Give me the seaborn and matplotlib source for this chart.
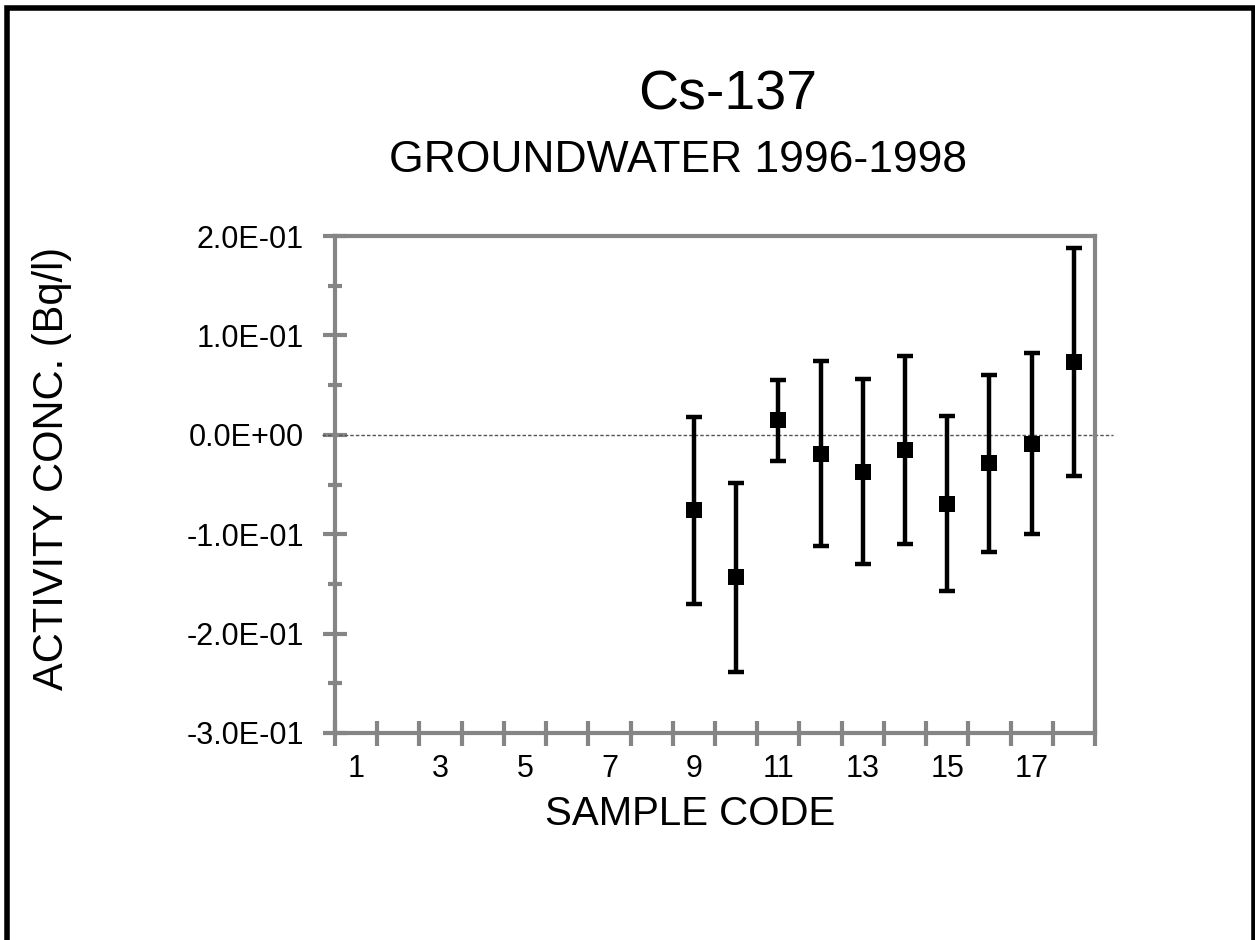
import numpy as np
import pandas as pd
import matplotlib
matplotlib.use("Agg")
import matplotlib.pyplot as plt
import seaborn as sns
from matplotlib.patches import Rectangle
from matplotlib.ticker import FixedLocator, FuncFormatter

# Data
sample_code = [9, 10, 11, 12, 13, 14, 15, 16, 17, 18]
activity = [-0.076, -0.1435, 0.0146, -0.0189, -0.037, -0.0153, -0.0695, -0.0286, -0.0088, 0.0732]
uncertainty = [0.094, 0.095, 0.041, 0.093, 0.093, 0.095, 0.088, 0.089, 0.091, 0.115]
x_tick_labels = [1, 3, 5, 7, 9, 11, 13, 15, 17]
y_ticks = [-0.3, -0.2, -0.1, 0.0, 0.1, 0.2]

df = pd.DataFrame({"code": sample_code, "activity": activity, "err": uncertainty})

sns.set_style("white")
plt.rcParams["font.family"] = ["Liberation Sans", "DejaVu Sans"]
plt.rcParams["text.color"] = "black"

grey = "#858585"

fig = plt.figure(figsize=(12.55, 9.4), dpi=100)
ax = fig.add_axes([335 / 1255, 1 - 733 / 940, 760 / 1255, 497 / 940])

# zero reference line, running a bit past the frame
ax.axhline(0, xmin=-0.017, xmax=1.024, color="#555555", lw=1.0,
           ls=(0, (2.5, 1.5)), clip_on=False, zorder=1)

ax.errorbar(df["code"], df["activity"], yerr=df["err"], fmt="none",
            ecolor="black", elinewidth=3.2, capsize=6, capthick=3.2, zorder=3)
sns.scatterplot(data=df, x="code", y="activity", marker="s", s=140,
                color="black", edgecolor="black", linewidth=0, ax=ax, zorder=4)

ax.set_xlim(0.5, 18.5)
ax.set_ylim(-0.3, 0.2)

# x axis: labels on odd codes, tick marks between categories
ax.xaxis.set_major_locator(FixedLocator(x_tick_labels))
ax.xaxis.set_minor_locator(FixedLocator(np.arange(0.5, 19, 1.0)))
ax.tick_params(axis="x", which="major", length=0, pad=15, labelsize=22,
               labelcolor="black")
ax.tick_params(axis="x", which="minor", direction="inout", length=18,
               width=3, color=grey, bottom=True)

# y axis
ax.yaxis.set_major_locator(FixedLocator(y_ticks))
ax.yaxis.set_minor_locator(FixedLocator(np.arange(-0.25, 0.2, 0.1)))
ax.yaxis.set_major_formatter(FuncFormatter(lambda v, p: f"{v:.1E}"))
ax.tick_params(axis="y", which="major", direction="inout", length=17,
               width=3, color=grey, labelsize=22, pad=14, left=True,
               labelcolor="black")
ax.tick_params(axis="y", which="minor", direction="inout", length=10,
               width=3, color=grey, left=True)

for sp in ax.spines.values():
    sp.set_color(grey)
    sp.set_linewidth(3)
    sp.set_visible(True)

ax.set_xlabel("")
ax.set_ylabel("")

fig.text(728 / 1255, 1 - 95 / 940, "Cs-137", ha="center", va="center",
         fontsize=40, color="black")
fig.text(678 / 1255, 1 - 160 / 940, "GROUNDWATER 1996-1998", ha="center",
         va="center", fontsize=32, color="black")
fig.text(690 / 1255, 1 - 814 / 940, "SAMPLE CODE", ha="center", va="center",
         fontsize=29, color="black")
fig.text(52 / 1255, 1 - 468 / 940, "ACTIVITY CONC. (Bq/l)", ha="center",
         va="center", rotation=90, fontsize=30, color="black")

# outer chart border
fig.patches.append(Rectangle((6.5 / 1255, -0.02), 1247 / 1255, 1.02 - 8 / 940,
                             transform=fig.transFigure, fill=False,
                             edgecolor="black", linewidth=4))

fig.savefig("out.png", dpi=100)
